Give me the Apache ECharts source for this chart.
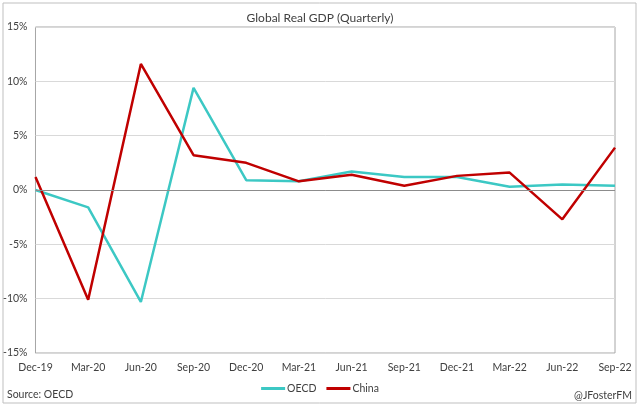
<!DOCTYPE html>
<html>
<head>
<meta charset="utf-8">
<script src="https://cdn.jsdelivr.net/npm/echarts@6/dist/echarts.min.js"></script>
<style>
html, body { margin: 0; padding: 0; background: #fff; }
#chart { width: 640px; height: 406px; }
</style>
</head>
<body>
<div id="chart"></div>
<script>
// 数据
var quarters = ['Dec-19', 'Mar-20', 'Jun-20', 'Sep-20', 'Dec-20', 'Mar-21',
	'Jun-21', 'Sep-21', 'Dec-21', 'Mar-22', 'Jun-22', 'Sep-22'];
var oecdValues = [0.0, -1.6, -10.3, 9.4, 0.9, 0.8, 1.7, 1.2, 1.2, 0.3, 0.5, 0.4];
var chinaValues = [1.2, -10.1, 11.6, 3.2, 2.5, 0.8, 1.4, 0.4, 1.3, 1.6, -2.7, 3.9];

var fontName = 'Lato, Calibri, sans-serif';
var textColor = '#404040';

var chart = echarts.init(document.getElementById('chart'));
var option = {
	animation: false,
	backgroundColor: '#fff',
	title: {
		text: 'Global Real GDP (Quarterly)',
		left: 'center',
		top: 7,
		textStyle: {
			fontFamily: fontName,
			fontSize: 12,
			fontWeight: 'normal',
			color: textColor
		}
	},
	legend: {
		bottom: 7,
		left: 'center',
		itemWidth: 24,
		itemHeight: 3,
		itemGap: 10,
		icon: 'rect',
		textStyle: {
			fontFamily: fontName,
			fontSize: 10.5,
			color: textColor,
			padding: [0, 0, 0, -3]
		},
		data: ['OECD', 'China']
	},
	//网格
	grid: {
		left: 35,
		right: 25,
		top: 27,
		bottom: 53,
		show: true,
		borderColor: '#a6a6a6',
		borderWidth: 1,
		containLabel: false
	},
	xAxis: {
		type: 'category',
		boundaryGap: false,
		data: quarters,
		axisLine: { show: false, onZero: false },
		axisTick: { show: false },
		splitLine: { show: false },
		axisLabel: {
			interval: 0,
			margin: 9,
			fontFamily: fontName,
			fontSize: 10.5,
			color: textColor
		}
	},
	yAxis: {
		type: 'value',
		min: -15,
		max: 15,
		interval: 5,
		axisLine: { show: false },
		axisTick: { show: false },
		splitLine: { lineStyle: { color: '#d9d9d9', width: 1 } },
		axisLabel: {
			formatter: '{value}%',
			margin: 8,
			fontFamily: fontName,
			fontSize: 10.5,
			color: textColor
		}
	},
	graphic: [{
		type: 'rect',
		shape: { x: 3, y: 3, width: 633, height: 400 },
		style: { fill: 'none', stroke: '#bfbfbf', lineWidth: 1 },
		silent: true
	}, {
		type: 'text',
		left: 7,
		top: 389,
		style: {
			text: 'Source: OECD',
			fontFamily: fontName,
			fontSize: 10.5,
			fill: textColor
		}
	}, {
		type: 'text',
		right: 8,
		top: 390,
		style: {
			text: '@JFosterFM',
			fontFamily: fontName,
			fontSize: 10.5,
			fill: textColor
		}
	}],
	series: [{
		name: 'OECD',
		type: 'line',
		data: oecdValues,
		symbol: 'none',
		lineStyle: { color: '#3cc8c4', width: 2.5 },
		itemStyle: { color: '#3cc8c4' },
		z: 2,
		markLine: {
			silent: true,
			symbol: 'none',
			label: { show: false },
			lineStyle: { color: '#8c8c8c', width: 1, type: 'solid' },
			data: [{ yAxis: 0 }]
		}
	}, {
		name: 'China',
		type: 'line',
		data: chinaValues,
		symbol: 'none',
		lineStyle: { color: '#c00000', width: 2.5 },
		itemStyle: { color: '#c00000' },
		z: 3
	}]
};
chart.setOption(option);
</script>
</body>
</html>
